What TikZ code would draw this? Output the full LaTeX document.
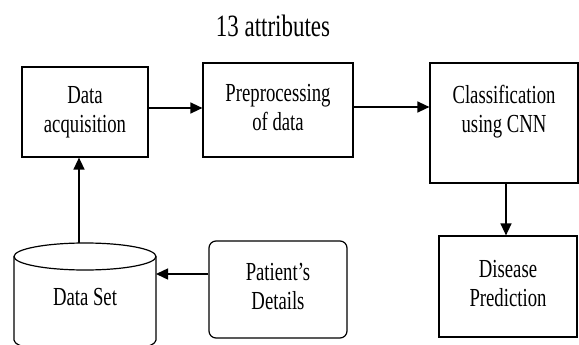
\documentclass[tikz,border=0pt]{standalone}
\usepackage{fontspec}
\setmainfont{Liberation Serif}
\usepackage{graphicx}
\usetikzlibrary{positioning,arrows.meta}

\newcommand{\sq}[1]{\scalebox{0.72}[1]{\begin{tabular}{@{}c@{}}#1\end{tabular}}}

\tikzset{
  block/.style={draw,line width=1.2pt,rectangle,inner sep=0pt,font=\fontsize{26}{29}\selectfont},
  arr/.style={line width=1.4pt,-{Triangle[length=12pt,width=11pt]}}
}

\begin{document}
\begin{tikzpicture}[x=1pt,y=-1pt]
\useasboundingbox (0,0) rectangle (579,345);

\node[font=\fontsize{31}{33}\selectfont] (attr) at (273,26) {\scalebox{0.74}[1]{13 attributes}};

\node[block,minimum width=126pt,minimum height=90pt] (acq) at (85,112) {\sq{Data\\acquisition}};
\node[block,minimum width=150pt,minimum height=94pt] (prep) at (278,110) {\sq{Preprocessing\\of data}};
\node[block,minimum width=148pt,minimum height=120pt,
  label={[anchor=north,yshift=-17pt,font=\fontsize{26}{29}\selectfont]north:\sq{Classification\\using CNN}}] (cls) at (504,123) {};
\node[block,minimum width=138pt,minimum height=101pt] (dis) at (508,286.5) {\sq{Disease\\Prediction}};
\node[block,rounded corners=7pt,minimum width=138pt,minimum height=97pt] (pat) at (278,289.5) {\sq{Patient's\\Details}};

% data set cylinder
\begin{scope}
\clip (0,0) rectangle (579,345);
\draw[line width=1.2pt] (14,256.5) -- (14,340) arc[start angle=180,end angle=0,x radius=71,y radius=13.5] -- (156,256.5);
\draw[line width=1.2pt] (85,256.5) ellipse[x radius=71,y radius=13.5];
\end{scope}
\node[font=\fontsize{26}{29}\selectfont] (dset) at (85,297) {\scalebox{0.72}[1]{Data Set}};
\coordinate (dstop) at (79,243);
\coordinate (dsright) at (156,274);

\draw[arr] (dstop) -- (dstop |- acq.south);
\draw[arr] (acq.east |- 0,108) -- (prep.west |- 0,108);
\draw[arr] (prep.east |- 0,107) -- (cls.west |- 0,107);
\draw[arr] (cls.south -| 506,0) -- (dis.north -| 506,0);
\draw[arr] (pat.west |- dsright) -- (dsright);

\end{tikzpicture}
\end{document}
